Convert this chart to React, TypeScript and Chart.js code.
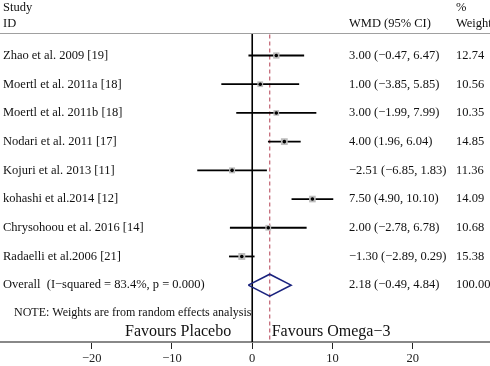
import React, { useEffect, useRef } from "react";
import { Chart, registerables } from "chart.js";

Chart.register(...registerables);

const studies = [
  "Zhao et al. 2009 [19]",
  "Moertl et al. 2011a [18]",
  "Moertl et al. 2011b [18]",
  "Nodari et al. 2011 [17]",
  "Kojuri et al. 2013 [11]",
  "kohashi et al.2014 [12]",
  "Chrysohoou et al. 2016 [14]",
  "Radaelli et al.2006 [21]",
];
const wmd = [3.0, 1.0, 3.0, 4.0, -2.51, 7.5, 2.0, -1.3];
const lower = [-0.47, -3.85, -1.99, 1.96, -6.85, 4.9, -2.78, -2.89];
const upper = [6.47, 5.85, 7.99, 6.04, 1.83, 10.1, 6.78, 0.29];
const weights = [12.74, 10.56, 10.35, 14.85, 11.36, 14.09, 10.68, 15.38];

const overallLabel = "Overall  (I\u2212squared = 83.4%, p = 0.000)";
const overall = { est: 2.18, lo: -0.49, hi: 4.84, weight: 100.0 };
const noteText = "NOTE: Weights are from random effects analysis";
const favLeft = "Favours Placebo";
const favRight = "Favours Omega\u22123";
const tickValues = [-20, -10, 0, 10, 20];

const fmt = (v: number) => (v < 0 ? "\u2212" + Math.abs(v).toFixed(2) : v.toFixed(2));
const ciText = (e: number, l: number, h: number) => `${fmt(e)} (${fmt(l)}, ${fmt(h)})`;

const X_MIN = -31.43;
const X_MAX = 29.63;
const Y_MIN = -1.934;
const Y_MAX = 9.98;
const HEADER_Y = -0.78;
const SERIF = "'Liberation Serif', 'DejaVu Serif', serif";

export default function App() {
  const ref = useRef<HTMLCanvasElement | null>(null);

  useEffect(() => {
    if (!ref.current) return;
    const n = studies.length;
    const ciSets: any[] = studies.map((_, i) => ({
      type: "line",
      data: [
        { x: lower[i], y: i },
        { x: upper[i], y: i },
      ],
      borderColor: "#000",
      borderWidth: 1.8,
      pointRadius: 0,
      order: 3,
    }));

    const textPlugin = {
      id: "forestText",
      afterDraw(chart: any) {
        const ctx = chart.ctx;
        const ys = chart.scales.y;
        const xs = chart.scales.x;
        ctx.save();
        ctx.fillStyle = "#111";
        ctx.font = `12.5px ${SERIF}`;
        ctx.textBaseline = "middle";
        ctx.textAlign = "left";
        // header
        ctx.fillText("Study", 3, 8);
        ctx.fillText("ID", 3, 24);
        ctx.fillText("WMD (95% CI)", 349, 24);
        ctx.fillText("%", 456, 8);
        ctx.fillText("Weight", 456, 24);
        // header rule
        const hy = Math.round(ys.getPixelForValue(HEADER_Y)) + 0.5;
        ctx.strokeStyle = "#a0a0a0";
        ctx.lineWidth = 1;
        ctx.beginPath();
        ctx.moveTo(0, hy);
        ctx.lineTo(chart.width, hy);
        ctx.stroke();
        // rows
        studies.forEach((s, i) => {
          const y = ys.getPixelForValue(i);
          ctx.fillText(s, 3, y);
          ctx.fillText(ciText(wmd[i], lower[i], upper[i]), 349, y);
          ctx.fillText(weights[i].toFixed(2), 456, y);
        });
        const oy = ys.getPixelForValue(n);
        ctx.fillText(overallLabel, 3, oy);
        ctx.fillText(ciText(overall.est, overall.lo, overall.hi), 349, oy);
        ctx.fillText(overall.weight.toFixed(2), 456, oy);
        ctx.font = `12px ${SERIF}`;
        ctx.fillText(noteText, 14, ys.getPixelForValue(8.97));
        // favours
        ctx.font = `16px ${SERIF}`;
        const fy = ys.getPixelForValue(9.64);
        ctx.textAlign = "right";
        ctx.fillText(favLeft, xs.getPixelForValue(0) - 21, fy);
        ctx.textAlign = "left";
        ctx.fillText(favRight, xs.getPixelForValue(overall.est) + 2, fy);
        ctx.restore();
      },
    };

    const chart = new Chart(ref.current, {
      type: "scatter",
      data: {
        datasets: [
          ...ciSets,
          {
            type: "line",
            data: [
              { x: 0, y: HEADER_Y },
              { x: 0, y: Y_MAX },
            ],
            borderColor: "#000",
            borderWidth: 1.6,
            pointRadius: 0,
            order: 5,
          },
          {
            type: "line",
            data: [
              { x: overall.est, y: HEADER_Y + 0.05 },
              { x: overall.est, y: Y_MAX },
            ],
            borderColor: "#c06070",
            borderWidth: 1.2,
            borderDash: [4, 3],
            pointRadius: 0,
            order: 4,
          },
          {
            type: "scatter",
            data: wmd.map((v, i) => ({ x: v, y: i })),
            pointStyle: "rect",
            pointRadius: weights.map((w) => 1.25 * Math.sqrt(w)),
            backgroundColor: "#bdbdbd",
            borderWidth: 0,
            order: 2,
          },
          {
            type: "scatter",
            data: wmd.map((v, i) => ({ x: v, y: i })),
            pointStyle: "circle",
            pointRadius: 1.8,
            backgroundColor: "#000",
            borderWidth: 0,
            order: 1,
          },
          {
            type: "line",
            data: [
              { x: overall.lo, y: n },
              { x: overall.est, y: n - 0.383 },
              { x: overall.hi, y: n },
              { x: overall.est, y: n + 0.383 },
              { x: overall.lo, y: n },
            ],
            borderColor: "#1a237e",
            borderWidth: 1.6,
            pointRadius: 0,
            fill: false,
            order: 1,
          },
        ],
      },
      options: {
        responsive: false,
        animation: false,
        devicePixelRatio: 1,
        layout: { padding: 0, autoPadding: false },
        plugins: { legend: { display: false }, tooltip: { enabled: false } },
        scales: {
          x: {
            type: "linear",
            min: X_MIN,
            max: X_MAX,
            afterBuildTicks: (s: any) => {
              s.ticks = tickValues.map((v) => ({ value: v }));
            },
            afterFit: (s: any) => {
              s.height = 24;
            },
            grid: {
              drawOnChartArea: false,
              drawTicks: true,
              tickLength: 7,
              color: "#222",
              lineWidth: 1,
            },
            border: { display: true, color: "#888", width: 2 },
            ticks: {
              padding: 2,
              color: "#222",
              font: { family: SERIF, size: 12.5 },
              maxRotation: 0,
              autoSkip: false,
              callback: (v: any) => (v < 0 ? "\u2212" + Math.abs(v) : String(v)),
            },
          },
          y: {
            type: "linear",
            display: false,
            min: Y_MIN,
            max: Y_MAX,
            reverse: true,
          },
        },
      } as any,
      plugins: [textPlugin],
    });
    return () => chart.destroy();
  }, []);

  return (
    <div style={{ position: "absolute", left: 0, top: 0, width: 490, height: 366, background: "#fff" }}>
      <canvas ref={ref} width={490} height={366} />
    </div>
  );
}
